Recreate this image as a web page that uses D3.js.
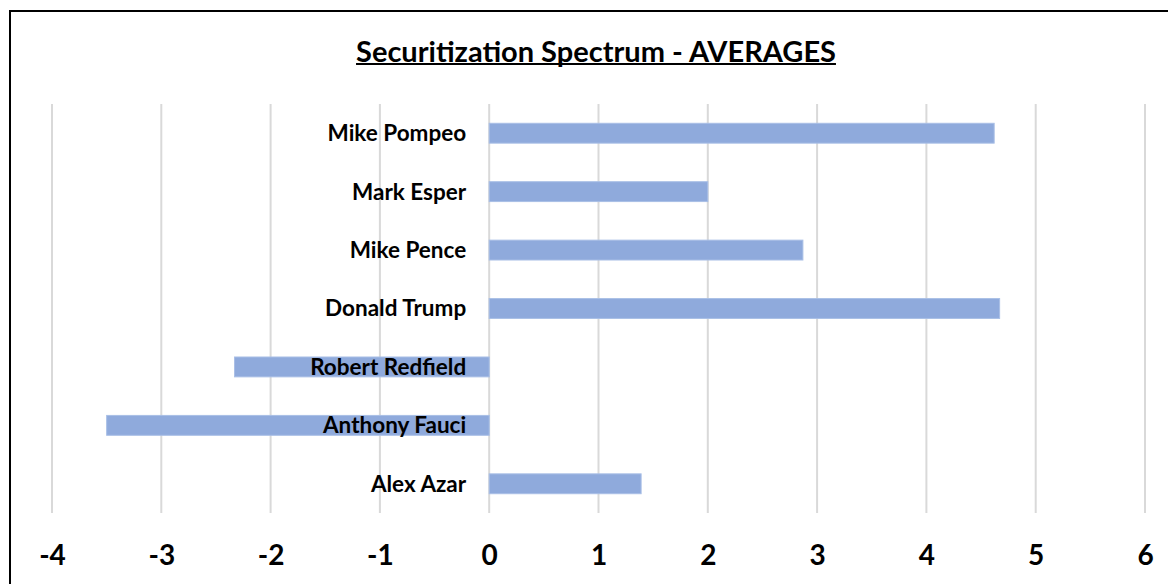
<!DOCTYPE html>
<html>
<head>
<meta charset="utf-8">
<script src="https://cdn.jsdelivr.net/npm/d3@7"></script>
<style>
  html, body { margin: 0; padding: 0; background: #fff; }
  svg { display: block; }
  text { font-family: Lato, "Open Sans", sans-serif; font-weight: 700; fill: #000; }
</style>
</head>
<body>
<svg id="chart" width="1168" height="584"></svg>
<script>
// Officials, listed top to bottom
const names = ["Mike Pompeo", "Mark Esper", "Mike Pence", "Donald Trump", "Robert Redfield", "Anthony Fauci", "Alex Azar"];
// Average securitization score per official
const averages = [4.62, 2.0, 2.87, 4.67, -2.33, -3.5, 1.39];
// Axis ticks
const ticks = [-4, -3, -2, -1, 0, 1, 2, 3, 4, 5, 6];
const title = "Securitization Spectrum - AVERAGES";

const svg = d3.select("#chart");
const W = 1168, H = 584;
const plot = { left: 52, right: 1145, top: 104, bottom: 513 };

svg.append("rect").attr("width", W).attr("height", H).attr("fill", "#fff");
// chart frame
svg.append("rect")
  .attr("x", 10).attr("y", 11).attr("width", W + 10).attr("height", H + 10)
  .attr("fill", "none").attr("stroke", "#000").attr("stroke-width", 2);

const x = d3.scaleLinear().domain([d3.min(ticks), d3.max(ticks)]).range([plot.left, plot.right]);
const y = d3.scaleBand().domain(names).range([plot.top, plot.bottom]).paddingInner(0.66).paddingOuter(0.33);

// vertical gridlines
svg.append("g").selectAll("line").data(ticks).join("line")
  .attr("x1", d => x(d)).attr("x2", d => x(d))
  .attr("y1", plot.top).attr("y2", plot.bottom)
  .attr("stroke", "#d9d9d9").attr("stroke-width", 2);

// bars
svg.append("g").selectAll("rect").data(names).join("rect")
  .attr("x", (d, i) => x(Math.min(0, averages[i])))
  .attr("width", (d, i) => Math.abs(x(averages[i]) - x(0)))
  .attr("y", d => y(d))
  .attr("height", y.bandwidth())
  .attr("fill", "#8faadc")
  .attr("stroke", "#a9bfe6").attr("stroke-width", 1);

// category labels, right-aligned left of the zero line
svg.append("g").selectAll("text").data(names).join("text")
  .attr("x", x(0) - 23)
  .attr("y", d => y(d) + y.bandwidth() / 2)
  .attr("dy", "0.35em")
  .attr("text-anchor", "end")
  .attr("font-size", 22.5)
  .text(d => d);

// bottom axis labels
const axis = d3.axisBottom(x).tickValues(ticks).tickSize(0).tickPadding(0).tickFormat(d3.format("d"));
const gAxis = svg.append("g").attr("transform", `translate(0, ${plot.bottom})`).call(axis);
gAxis.select(".domain").remove();
gAxis.selectAll("text")
  .attr("y", 42).attr("dy", "0.36em")
  .attr("font-size", 28)
  .attr("font-family", "Lato, sans-serif").attr("font-weight", 700).attr("fill", "#000")
  .text(d => d < 0 ? "-" + Math.abs(d) : d);

// title
const t = svg.append("text")
  .attr("x", 596).attr("y", 52).attr("dy", "0.35em")
  .attr("text-anchor", "middle")
  .attr("font-size", 29)
  .text(title);
const bb = t.node().getBBox();
svg.append("line")
  .attr("x1", bb.x).attr("x2", bb.x + bb.width)
  .attr("y1", 64).attr("y2", 64)
  .attr("stroke", "#000").attr("stroke-width", 2);
</script>
</body>
</html>
